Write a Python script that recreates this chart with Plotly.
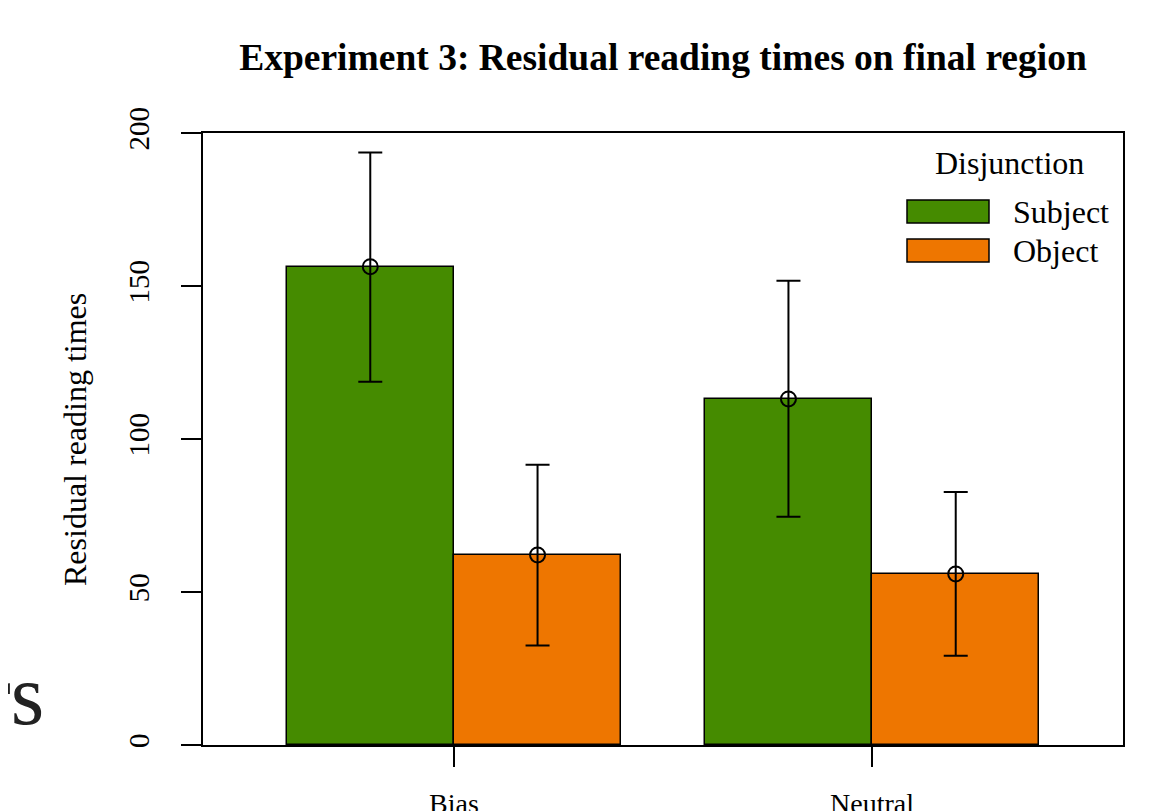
import plotly.graph_objects as go

conditions = ["Bias", "Neutral"]
series = ["Subject", "Object"]
colors = {"Subject": "#458B00", "Object": "#EE7600"}
means = {"Subject": [156.3, 113.1], "Object": [62.1, 55.9]}
upper = {"Subject": [193.6, 151.7], "Object": [91.6, 82.7]}
lower = {"Subject": [118.7, 74.6], "Object": [32.5, 29.2]}
y_ticks = [0, 50, 100, 150, 200]

FONT = "Liberation Serif, Times New Roman, serif"

# base-R barplot layout: unit-wide bars, half-unit gaps between groups
n_series = len(series)
gap = 0.5
group_starts = [gap + gi * (n_series + gap) for gi in range(len(conditions))]
group_centers = [s + n_series / 2 for s in group_starts]
x_max = group_starts[-1] + n_series + gap

fig = go.Figure()
for si, s in enumerate(series):
    xs = [g + si + 0.5 for g in group_starts]
    fig.add_trace(go.Bar(
        x=xs, y=means[s], width=1.0, name=s,
        marker=dict(color=colors[s], line=dict(color="black", width=1.5)),
        showlegend=False, hoverinfo="skip",
    ))
    fig.add_trace(go.Scatter(
        x=xs, y=means[s], mode="markers",
        marker=dict(symbol="circle-open", size=15, color="black", line=dict(width=2, color="black")),
        error_y=dict(type="data", symmetric=False,
                     array=[u - m for u, m in zip(upper[s], means[s])],
                     arrayminus=[m - l for m, l in zip(means[s], lower[s])],
                     color="black", thickness=2, width=12),
        showlegend=False, hoverinfo="skip",
    ))

# page offset (browser body margin); figure fills the window to its right/bottom edges
OFF = 8
FW, FH = 1162 - OFF, 811 - OFF
# plot box in page pixels (reference)
L, R, T, B = 203, 1123, 133, 745
W, H = R - L, B - T

def px(x):
    return (x - L) / W

def py(y):
    return (B - y) / H

shapes = []
annotations = []
legend_rows = [("Subject", 200, 223), ("Object", 239, 262)]
for name, y0, y1 in legend_rows:
    shapes.append(dict(type="rect", xref="paper", yref="paper",
                       x0=px(907), x1=px(989), y0=py(y1), y1=py(y0),
                       fillcolor=colors[name], line=dict(color="black", width=1.5)))
    annotations.append(dict(text=name, xref="paper", yref="paper",
                            x=px(1011), y=py((y0 + y1) / 2), xanchor="left", yanchor="middle",
                            showarrow=False, font=dict(family=FONT, size=32, color="black")))
annotations.append(dict(text="Disjunction", xref="paper", yref="paper",
                        x=px(1009), y=py(163), xanchor="center", yanchor="middle",
                        showarrow=False, font=dict(family=FONT, size=32, color="black")))
annotations.append(dict(text="Residual reading times", xref="paper", yref="paper",
                        x=px(75), y=py(440), xanchor="center", yanchor="middle", textangle=-90,
                        showarrow=False, font=dict(family=FONT, size=32, color="black")))
annotations.append(dict(text="rs", xref="paper", yref="paper",
                        x=px(46), y=py(695), xanchor="right", yanchor="middle",
                        showarrow=False, font=dict(family=FONT, size=86, color="#222222")))

fig.update_layout(
    width=FW, height=FH,
    margin=dict(l=L - OFF, r=FW - (L - OFF) - W, t=T - OFF, b=FH - (T - OFF) - H, pad=0,
                autoexpand=False),
    paper_bgcolor="white", plot_bgcolor="white",
    title=dict(text="<b>Experiment 3: Residual reading times on final region</b>",
               x=((L + R) / 2 - OFF) / FW, xanchor="center", y=1 - (57 - OFF) / FH, yanchor="middle",
               font=dict(family=FONT, size=37.5, color="black")),
    font=dict(family=FONT, color="black"),
    shapes=shapes, annotations=annotations,
    showlegend=False,
    bargap=0,
)
fig.update_xaxes(
    range=[0, x_max], tickvals=group_centers, ticktext=conditions,
    ticks="outside", ticklen=20, tickwidth=2, tickcolor="black",
    showline=True, linecolor="black", linewidth=2, mirror=True,
    showgrid=False, zeroline=False, ticklabelstandoff=12, automargin=False,
    tickfont=dict(family=FONT, size=28, color="black"),
)
fig.update_yaxes(
    range=[0, 200], tickvals=y_ticks,
    ticks="outside", ticklen=20, tickwidth=2, tickcolor="black", tickangle=-90,
    showline=True, linecolor="black", linewidth=2, mirror=True,
    showgrid=False, zeroline=False, ticklabelstandoff=20, automargin=False,
    tickfont=dict(family=FONT, size=29, color="black"),
)

fig.write_html("out.html")
